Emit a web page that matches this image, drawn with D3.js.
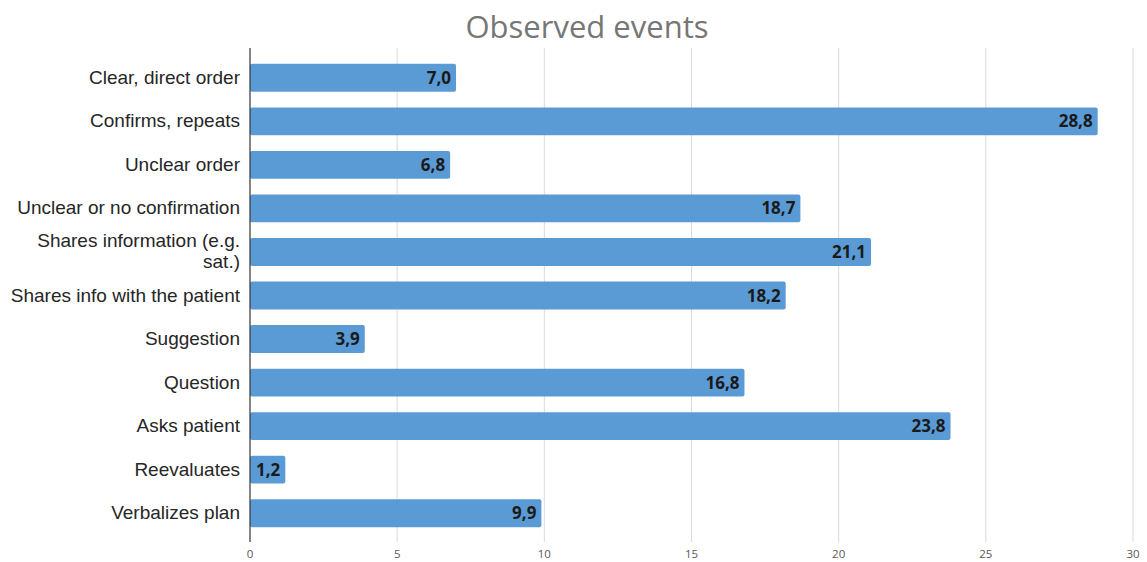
<!DOCTYPE html>
<html>
<head>
<meta charset="utf-8">
<script src="https://cdn.jsdelivr.net/npm/d3@7"></script>
<style>
  body { margin: 0; background: #fff; }
</style>
</head>
<body>
<div id="chart"></div>
<script>
// data
const categories = [
  "Clear, direct order",
  "Confirms, repeats",
  "Unclear order",
  "Unclear or no confirmation",
  "Shares information (e.g.|sat.)",
  "Shares info with the patient",
  "Suggestion",
  "Question",
  "Asks patient",
  "Reevaluates",
  "Verbalizes plan"
];
const values = [7.0, 28.8, 6.8, 18.7, 21.1, 18.2, 3.9, 16.8, 23.8, 1.2, 9.9];
const xTicks = [0, 5, 10, 15, 20, 25, 30];

const W = 1147, H = 562;
const left = 250, right = 1133;
const gridTop = 48, gridBottom = 542;

const svg = d3.select("#chart").append("svg")
  .attr("width", W).attr("height", H);

// title
svg.append("text")
  .attr("x", 587).attr("y", 38)
  .attr("text-anchor", "middle")
  .style("font-family", "'Open Sans', sans-serif")
  .style("font-size", "31px")
  .attr("fill", "#767676")
  .text("Observed events");

var x = d3.scaleLinear().domain([0, 30]).range([left, right]);
var y = d3.scaleBand().domain(categories).range([56, 535]).paddingInner(0.36).paddingOuter(0.18);

// gridlines
svg.append("g").selectAll("line")
  .data(xTicks.filter(d => d > 0))
  .enter().append("line")
  .attr("x1", d => x(d)).attr("x2", d => x(d))
  .attr("y1", gridTop).attr("y2", gridBottom)
  .attr("stroke", "#d9d9d9").attr("stroke-width", 1);

// tick labels
svg.append("g").selectAll("text")
  .data(xTicks)
  .enter().append("text")
  .attr("x", d => x(d)).attr("y", 558)
  .attr("text-anchor", "middle")
  .style("font-family", "'Open Sans', sans-serif")
  .style("font-size", "11.5px")
  .attr("fill", "#595959")
  .text(d => d);

// bars
svg.append("g").selectAll("rect")
  .data(values)
  .enter().append("rect")
  .attr("x", x(0))
  .attr("y", (d, i) => y(categories[i]))
  .attr("width", d => x(d) - x(0))
  .attr("height", y.bandwidth())
  .attr("rx", 2)
  .attr("fill", "#5b9bd5");

// value labels
svg.append("g").selectAll("text")
  .data(values)
  .enter().append("text")
  .attr("x", d => x(d) - 5)
  .attr("y", (d, i) => y(categories[i]) + y.bandwidth() / 2 + 6)
  .attr("text-anchor", "end")
  .style("font-family", "'Open Sans', sans-serif")
  .style("font-weight", "bold")
  .style("font-size", "17px")
  .attr("fill", "#1a1a1a")
  .text(d => d.toFixed(1).replace(".", ","));

// category labels
var cat = svg.append("g").selectAll("text")
  .data(categories)
  .enter().append("text")
  .attr("text-anchor", "end")
  .style("font-family", "'Liberation Sans', Arial, sans-serif")
  .style("font-size", "19px")
  .attr("fill", "#262626")
  .attr("transform", d => "translate(240," + (y(d) + y.bandwidth() / 2) + ")");

cat.each(function (d) {
  var lines = d.split("|");
  var t = d3.select(this);
  lines.forEach(function (l, i) {
    t.append("tspan")
      .attr("x", 0)
      .attr("y", (i - (lines.length - 1) / 2) * 21 + 6)
      .text(l);
  });
});

// axis line
svg.append("line")
  .attr("x1", left).attr("x2", left)
  .attr("y1", gridTop).attr("y2", gridBottom)
  .attr("stroke", "#333").attr("stroke-width", 1.2);
</script>
</body>
</html>
